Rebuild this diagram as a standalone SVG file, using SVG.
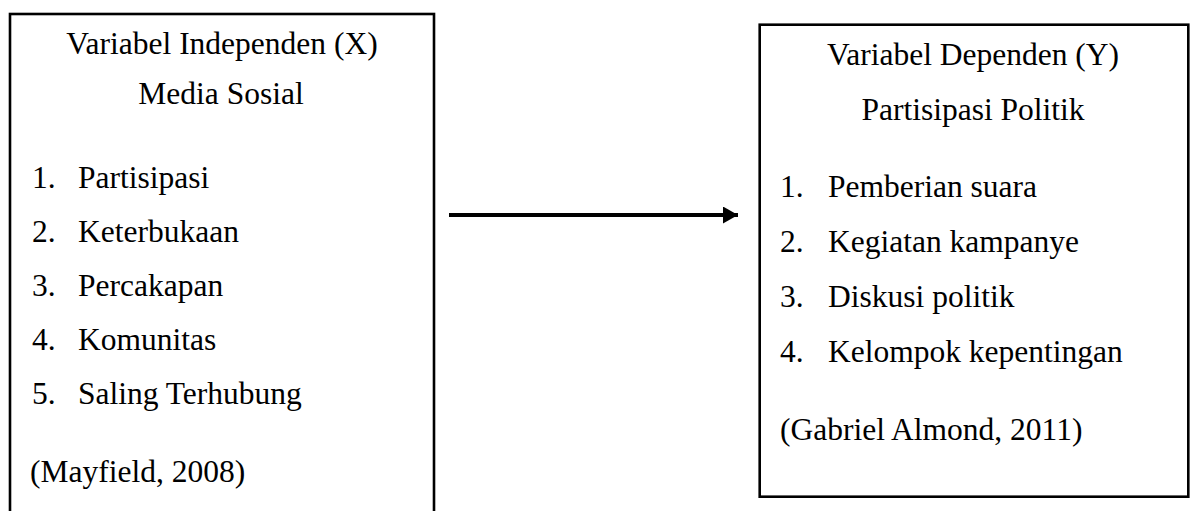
<svg xmlns="http://www.w3.org/2000/svg" width="1195" height="511" viewBox="0 0 1195 511">
<style>
.box{fill:#fff;stroke:#000;stroke-width:2.6}
.t{font-family:"Liberation Serif","Times New Roman",serif;font-size:31.5px;fill:#000}
.c{text-anchor:middle}
</style>
<defs>
<marker id="ah" markerUnits="userSpaceOnUse" markerWidth="16" markerHeight="17" refX="15" refY="8.5" orient="auto">
<path d="M0,0 L15,8.5 L0,17 Z" fill="#000"/>
</marker>
</defs>
<rect width="1195" height="511" fill="#fff"/>
<g id="node-x">
<rect class="box" x="10" y="14" width="424" height="520"/>
<text class="t c" x="222" y="54">Variabel Independen (X)</text>
<text class="t c" x="221" y="104">Media Sosial</text>
<text class="t" x="32" y="188">1.</text><text class="t" x="78" y="188">Partisipasi</text>
<text class="t" x="32" y="242">2.</text><text class="t" x="78" y="242">Keterbukaan</text>
<text class="t" x="32" y="296">3.</text><text class="t" x="78" y="296">Percakapan</text>
<text class="t" x="32" y="350">4.</text><text class="t" x="78" y="350">Komunitas</text>
<text class="t" x="32" y="404">5.</text><text class="t" x="78" y="404">Saling Terhubung</text>
<text class="t" x="30" y="482">(Mayfield, 2008)</text>
</g>
<g id="node-y">
<rect class="box" x="759.7" y="24.7" width="428.6" height="472"/>
<text class="t c" x="973" y="65">Variabel Dependen (Y)</text>
<text class="t c" x="973" y="120">Partisipasi Politik</text>
<text class="t" x="780" y="197">1.</text><text class="t" x="828" y="197">Pemberian suara</text>
<text class="t" x="780" y="252">2.</text><text class="t" x="828" y="252">Kegiatan kampanye</text>
<text class="t" x="780" y="307">3.</text><text class="t" x="828" y="307">Diskusi politik</text>
<text class="t" x="780" y="362">4.</text><text class="t" x="828" y="362">Kelompok kepentingan</text>
<text class="t" x="780" y="440">(Gabriel Almond, 2011)</text>
</g>
<g id="connectors">
<line x1="449" y1="215" x2="738" y2="215" stroke="#000" stroke-width="4" marker-end="url(#ah)"/>
</g>
</svg>
